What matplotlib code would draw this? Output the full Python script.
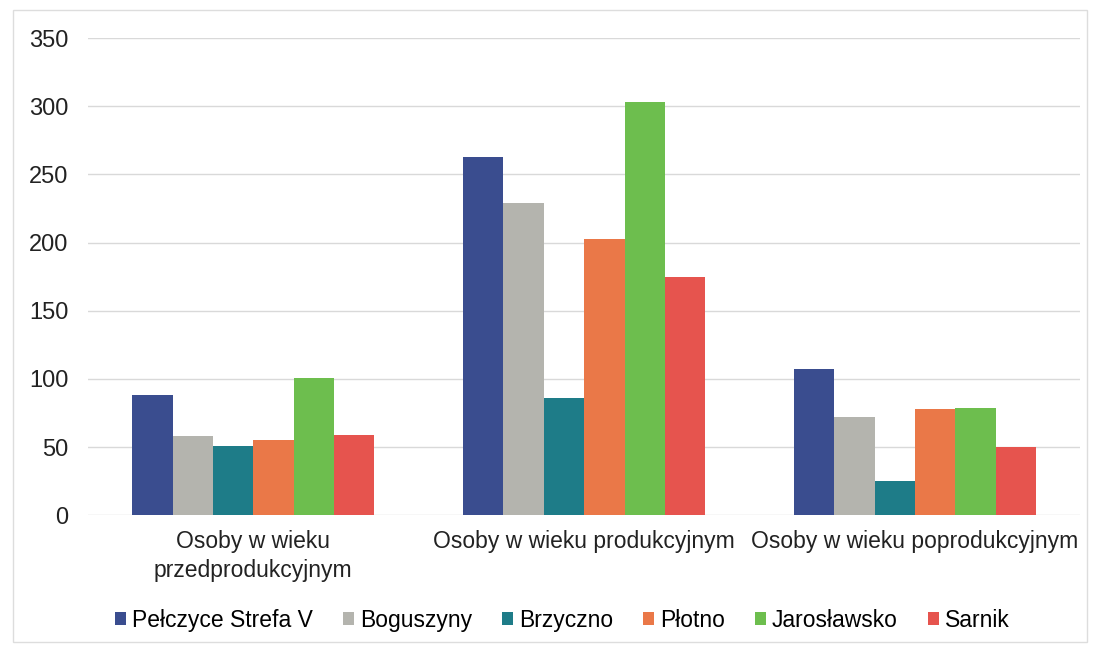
import matplotlib
matplotlib.use("Agg")
import matplotlib.pyplot as plt
import numpy as np
from matplotlib.patches import Rectangle

categories = ["Osoby w wieku\nprzedprodukcyjnym", "Osoby w wieku produkcyjnym", "Osoby w wieku poprodukcyjnym"]
series_names = ["Pełczyce Strefa V", "Boguszyny", "Brzyczno", "Płotno", "Jarosławsko", "Sarnik"]
pelczyce = [88, 263, 107]
boguszyny = [58, 229, 72]
brzyczno = [51, 86, 25]
plotno = [55, 203, 78]
jaroslawsko = [101, 303, 79]
sarnik = [59, 175, 50]
yticks = [0, 50, 100, 150, 200, 250, 300, 350]

series = [pelczyce, boguszyny, brzyczno, plotno, jaroslawsko, sarnik]
colors = ["#3A4D8F", "#B4B4AE", "#1E7C88", "#EA7848", "#6DBE4E", "#E6544E"]

plt.rcParams['font.family'] = ['Liberation Sans', 'DejaVu Sans']

fig = plt.figure(figsize=(10.98, 6.48), dpi=100)
ax = fig.add_axes([0.080, 0.205, 0.904, 0.736])

x = np.arange(len(categories))
n = len(series)
bw = 0.122
for i, (vals, name, c) in enumerate(zip(series, series_names, colors)):
    ax.bar(x + (i - (n - 1) / 2) * bw, vals, width=bw, color=c, label=name, zorder=3)

ax.set_xlim(-0.5, len(categories) - 0.5)
ax.set_ylim(0, 350)
ax.set_yticks(yticks)
ax.set_yticklabels([str(v) for v in yticks], fontsize=17, color="#222222")
ax.set_xticks(x)
ax.set_xticklabels(categories, fontsize=16.5, color="#222222", linespacing=1.3)
ax.tick_params(axis='y', length=0, pad=14)
ax.tick_params(axis='x', length=0, pad=11)
ax.grid(axis='y', color="#D9D9D9", linewidth=1.0, zorder=0)
for s in ax.spines.values():
    s.set_visible(False)

leg = fig.legend(loc='center', bbox_to_anchor=(0.512, 0.043), ncol=6, frameon=False,
                 fontsize=16.5, handlelength=0.5, handleheight=0.5, handletextpad=0.25,
                 columnspacing=1.3)

fig.patches.append(Rectangle((0.012, 0.01), 0.978, 0.975, transform=fig.transFigure,
                             fill=False, edgecolor="#DDDDDD", linewidth=1.0))

fig.savefig("out.png", dpi=100)
